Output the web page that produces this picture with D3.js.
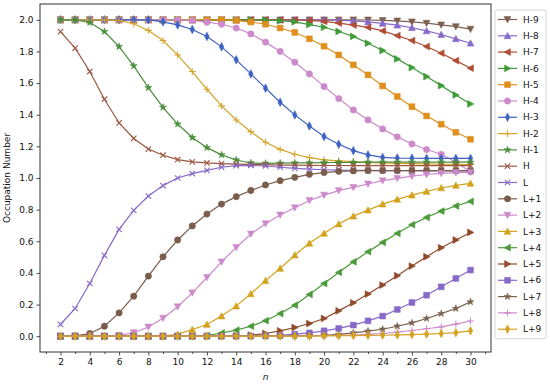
<!DOCTYPE html>
<html>
<head>
<meta charset="utf-8">
<script src="https://cdn.jsdelivr.net/npm/d3@7"></script>
<style>
  html, body { margin: 0; padding: 0; background: #fff; }
  svg { display: block; font-family: "DejaVu Sans", sans-serif; }
</style>
</head>
<body>
<svg id="chart" width="550" height="384"></svg>
<script>
// ---------- data ----------
const nValues = [2,3,4,5,6,7,8,9,10,11,12,13,14,15,16,17,18,19,20,21,22,23,24,25,26,27,28,29,30];
const seriesNames = ["H-9","H-8","H-7","H-6","H-5","H-4","H-3","H-2","H-1","H","L","L+1","L+2","L+3","L+4","L+5","L+6","L+7","L+8","L+9"];

const valH9 = [2,2,2,2,2,2,2,2,2,2,2,2,2,2,2,2,2,2,2,2,2,1.999,1.996,1.993,1.987,1.979,1.968,1.957,1.941];
const valH8 = [2,2,2,2,2,2,2,2,2,2,2,2,2,2,2,2,2,2,1.999,1.997,1.993,1.987,1.978,1.966,1.95,1.93,1.907,1.88,1.852];
const valH7 = [2,2,2,2,2,2,2,2,2,2,2,2,2,2,2,2,1.999,1.996,1.99,1.979,1.967,1.952,1.93,1.90,1.869,1.831,1.789,1.742,1.694];
const valH6 = [2,2,2,2,2,2,2,2,2,2,2,2,2,2,1.998,1.994,1.987,1.97,1.953,1.926,1.895,1.852,1.806,1.753,1.698,1.641,1.584,1.525,1.468];
const valH5 = [2,2,2,2,2,2,2,2,2,2,2,2,1.996,1.986,1.972,1.948,1.92,1.88,1.833,1.778,1.715,1.652,1.582,1.515,1.451,1.392,1.34,1.289,1.245];
const valH4 = [2,2,2,2,2,2,2,2,1.999,1.996,1.985,1.972,1.948,1.911,1.859,1.80,1.732,1.658,1.578,1.502,1.43,1.367,1.31,1.26,1.215,1.18,1.15,1.10,1.04];
const valH3 = [2,2,2,2,2,2,2,1.987,1.968,1.939,1.895,1.829,1.747,1.658,1.568,1.479,1.399,1.329,1.262,1.213,1.173,1.146,1.13,1.126,1.125,1.124,1.124,1.124,1.124];
const valH2 = [2,2,2,2,1.996,1.975,1.933,1.869,1.778,1.673,1.561,1.456,1.367,1.293,1.226,1.181,1.15,1.129,1.115,1.108,1.103,1.099,1.096,1.093,1.091,1.089,1.087,1.086,1.085];
const valH1 = [2,1.999,1.983,1.926,1.831,1.709,1.571,1.447,1.341,1.256,1.192,1.146,1.114,1.095,1.093,1.094,1.095,1.096,1.097,1.098,1.099,1.10,1.10,1.10,1.10,1.10,1.10,1.10,1.10];
const valH  = [1.925,1.821,1.673,1.498,1.348,1.25,1.183,1.144,1.116,1.102,1.095,1.091,1.088,1.086,1.084,1.082,1.081,1.08,1.079,1.079,1.078,1.078,1.078,1.078,1.078,1.078,1.078,1.078,1.078];
const valL  = [0.074,0.175,0.333,0.511,0.675,0.795,0.886,0.952,1.0,1.028,1.048,1.068,1.078,1.08,1.076,1.068,1.061,1.056,1.052,1.05,1.049,1.048,1.047,1.046,1.046,1.045,1.045,1.045,1.045];
const valL1 = [0,0.002,0.017,0.063,0.147,0.253,0.38,0.502,0.608,0.697,0.772,0.835,0.882,0.921,0.956,0.983,1.004,1.023,1.034,1.042,1.045,1.046,1.046,1.046,1.046,1.046,1.046,1.046,1.046];
const valL2 = [0,0,0,0,0.005,0.022,0.058,0.114,0.186,0.274,0.371,0.47,0.561,0.646,0.711,0.766,0.812,0.858,0.892,0.92,0.941,0.962,0.983,0.998,1.012,1.022,1.029,1.034,1.036];
const valL3 = [0,0,0,0,0,0,0,0,0.011,0.042,0.074,0.127,0.19,0.268,0.351,0.428,0.513,0.587,0.65,0.709,0.759,0.797,0.835,0.865,0.892,0.915,0.937,0.953,0.966];
const valL4 = [0,0,0,0,0,0,0,0,0,0,0.004,0.02,0.038,0.063,0.098,0.143,0.196,0.264,0.333,0.403,0.47,0.534,0.593,0.65,0.705,0.751,0.791,0.823,0.852];
const valL5 = [0,0,0,0,0,0,0,0,0,0,0,0.001,0.003,0.006,0.017,0.034,0.055,0.08,0.112,0.16,0.211,0.266,0.323,0.382,0.443,0.502,0.559,0.608,0.656];
const valL6 = [0,0,0,0,0,0,0,0,0,0,0,0,0,0.001,0.002,0.005,0.013,0.021,0.034,0.049,0.07,0.097,0.127,0.169,0.213,0.259,0.312,0.365,0.418];
const valL7 = [0,0,0,0,0,0,0,0,0,0,0,0,0,0,0.001,0.002,0.003,0.004,0.006,0.011,0.021,0.032,0.044,0.063,0.084,0.112,0.143,0.175,0.217];
const valL8 = [0,0,0,0,0,0,0,0,0,0,0,0,0,0,0,0,0.001,0.002,0.003,0.005,0.007,0.011,0.017,0.026,0.036,0.047,0.059,0.076,0.096];
const valL9 = [0,0,0,0,0,0,0,0,0,0,0,0,0,0,0,0,0,0,0.002,0.003,0.004,0.005,0.006,0.008,0.01,0.013,0.017,0.022,0.034];

const seriesValues = [valH9,valH8,valH7,valH6,valH5,valH4,valH3,valH2,valH1,valH,valL,valL1,valL2,valL3,valL4,valL5,valL6,valL7,valL8,valL9];
const seriesColors = ["#7d5f50","#8669c9","#b04c33","#3f9a3a","#e08e1c","#cc8acb","#3d62c2","#d4a42a","#4a8f3a","#9a5640",
                      "#8669c9","#7a5c4c","#cc8acb","#d4a21c","#4a9a3a","#8f4a2a","#8669c9","#7a6450","#cc8acb","#d4a21c"];
const seriesMarkers = ["v","^","<",">","s","o","d","+","*","x","x","o","v","^","<",">","s","*","+","d"];

const yTicks = [0.0,0.2,0.4,0.6,0.8,1.0,1.2,1.4,1.6,1.8,2.0];
const xMajorTicks = [2,4,6,8,10,12,14,16,18,20,22,24,26,28,30];
const xMinorTicks = [1,3,5,7,9,11,13,15,17,19,21,23,25,27,29,31];

// ---------- layout ----------
const svg = d3.select("#chart");
const plot = {left: 40, right: 491, top: 4, bottom: 352};
const x = d3.scaleLinear().domain([0.6, 31.4]).range([plot.left, plot.right]);
const y = d3.scaleLinear().domain([-0.1, 2.1]).range([plot.bottom, plot.top]);

// marker paths
function markerPath(type, r) {
  switch (type) {
    case "v": return `M0,${r}L${-r},${-r*0.85}L${r},${-r*0.85}Z`;
    case "^": return `M0,${-r}L${-r},${r*0.85}L${r},${r*0.85}Z`;
    case "<": return `M${-r},0L${r*0.85},${-r}L${r*0.85},${r}Z`;
    case ">": return `M${r},0L${-r*0.85},${-r}L${-r*0.85},${r}Z`;
    case "s": { const s = r*0.85; return `M${-s},${-s}L${s},${-s}L${s},${s}L${-s},${s}Z`; }
    case "o": return d3.symbol(d3.symbolCircle, Math.PI*r*r*0.85)();
    case "d": return `M0,${-r*1.25}L${r*0.65},0L0,${r*1.25}L${-r*0.65},0Z`;
    case "*": return d3.symbol(d3.symbolStar, r*r*1.3)();
    case "+": return `M${-r},0L${r},0M0,${-r}L0,${r}`;
    case "x": return `M${-r*0.8},${-r*0.8}L${r*0.8},${r*0.8}M${-r*0.8},${r*0.8}L${r*0.8},${-r*0.8}`;
  }
}
const strokeOnly = t => t === "+" || t === "x";

// clip
svg.append("defs").append("clipPath").attr("id","clip")
  .append("rect").attr("x",plot.left).attr("y",plot.top)
  .attr("width",plot.right-plot.left).attr("height",plot.bottom-plot.top);

const gData = svg.append("g").attr("clip-path","url(#clip)");
const line = d3.line().x(d => x(d[0])).y(d => y(d[1]));

seriesNames.forEach((name, i) => {
  const pts = nValues.map((n, j) => [n, seriesValues[i][j]]);
  const col = seriesColors[i], mk = seriesMarkers[i];
  const g = gData.append("g");
  g.append("path").datum(pts).attr("d", line)
    .attr("fill","none").attr("stroke",col).attr("stroke-width",1.2);
  g.selectAll("path.m").data(pts).enter().append("path").attr("class","m")
    .attr("transform", d => `translate(${x(d[0])},${y(d[1])})`)
    .attr("d", markerPath(mk, 3.4))
    .attr("fill", strokeOnly(mk) ? "none" : col)
    .attr("stroke", col)
    .attr("stroke-width", strokeOnly(mk) ? 1.1 : 0.6);
});

// axes
const xAxis = d3.axisBottom(x).tickValues(xMajorTicks).tickFormat(d3.format("d")).tickSize(3.5).tickPadding(3);
const xAxisMinor = d3.axisBottom(x).tickValues(xMinorTicks).tickFormat("").tickSize(2);
const yAxis = d3.axisLeft(y).tickValues(yTicks).tickFormat(d3.format(".1f")).tickSize(3.5).tickPadding(3);

const gx = svg.append("g").attr("transform",`translate(0,${plot.bottom})`).call(xAxis);
const gxm = svg.append("g").attr("transform",`translate(0,${plot.bottom})`).call(xAxisMinor);
const gy = svg.append("g").attr("transform",`translate(${plot.left},0)`).call(yAxis);
[gx,gxm,gy].forEach(g => {
  g.select(".domain").remove();
  g.selectAll(".tick line").attr("stroke","#222").attr("stroke-width",0.8);
  g.selectAll(".tick text").attr("fill","#111").style("font-size","9px").style("font-family","DejaVu Sans");
});

// frame
svg.append("rect").attr("x",plot.left).attr("y",plot.top)
  .attr("width",plot.right-plot.left).attr("height",plot.bottom-plot.top)
  .attr("fill","none").attr("stroke","#333").attr("stroke-width",1);

// axis labels
svg.append("text").attr("x",(plot.left+plot.right)/2).attr("y",380)
  .attr("text-anchor","middle").style("font-size","9px").style("font-style","italic").attr("fill","#111").text("n");
svg.append("text").attr("transform",`translate(10,${(plot.top+plot.bottom)/2}) rotate(-90)`)
  .attr("text-anchor","middle").style("font-size","9px").attr("fill","#111").text("Occupation Number");

// legend
const lg = svg.append("g");
const lgTop = 10, lgStep = 16.3, lgFirst = 19.5;
lg.append("rect").attr("x",495).attr("y",lgTop).attr("width",51).attr("height",lgFirst - lgTop + 19*lgStep + 9.5)
  .attr("rx",2).attr("fill","#fff").attr("stroke","#ccc").attr("stroke-width",0.8);
seriesNames.forEach((name, i) => {
  const yy = lgFirst + i*lgStep;
  const col = seriesColors[i], mk = seriesMarkers[i];
  lg.append("line").attr("x1",498).attr("x2",517).attr("y1",yy).attr("y2",yy)
    .attr("stroke",col).attr("stroke-width",1.2);
  lg.append("path").attr("transform",`translate(507.5,${yy})`).attr("d",markerPath(mk,3.4))
    .attr("fill", strokeOnly(mk) ? "none" : col).attr("stroke",col)
    .attr("stroke-width", strokeOnly(mk) ? 1.1 : 0.6);
  lg.append("text").attr("x",523).attr("y",yy).attr("dy","0.35em")
    .style("font-size","9px").attr("fill","#111").text(name);
});
</script>
</body>
</html>
